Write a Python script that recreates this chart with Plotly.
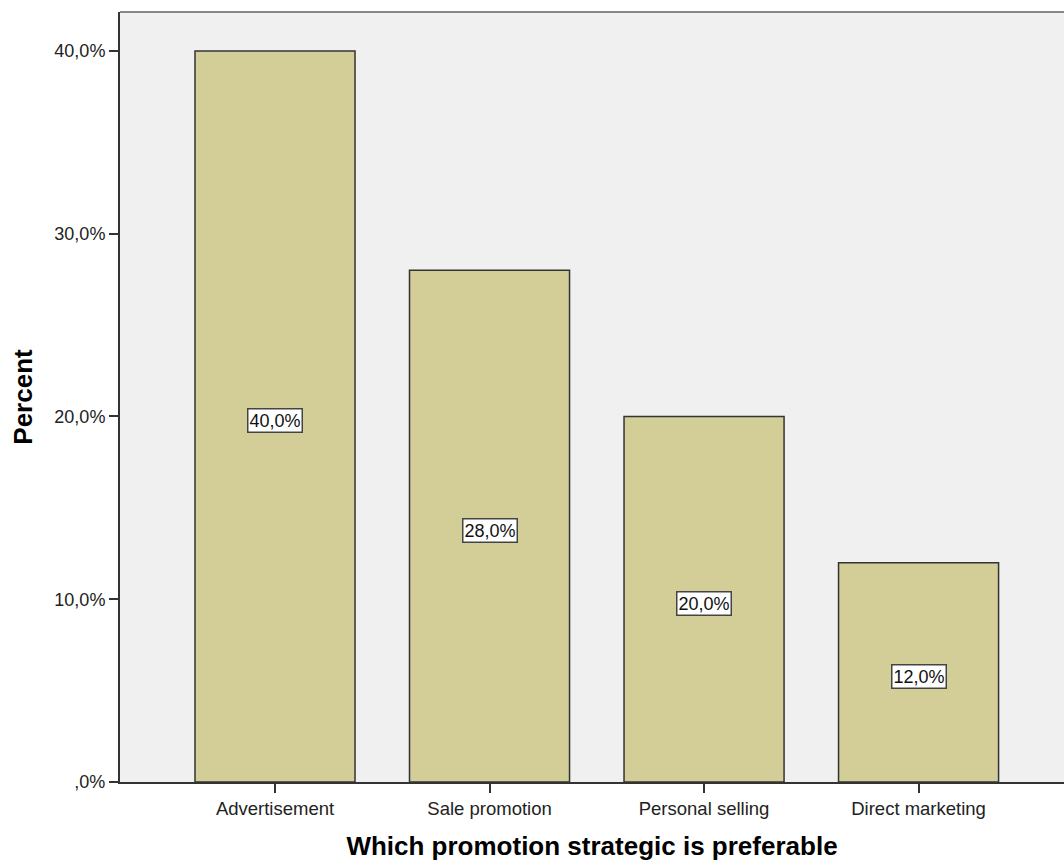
import plotly.graph_objects as go

# Preferred promotion strategies (percent of respondents)
categories = ["Advertisement", "Sale promotion", "Personal selling", "Direct marketing"]
percents = [40.0, 28.0, 20.0, 12.0]
y_tick_values = [0, 10, 20, 30, 40]
y_tick_labels = [",0%", "10,0%", "20,0%", "30,0%", "40,0%"]

FONT = "Liberation Sans, Arial, sans-serif"
x_pos = list(range(len(categories)))

fig = go.Figure()
fig.add_trace(go.Bar(
    x=x_pos,
    y=percents,
    width=0.746,
    marker=dict(color="#D3CE97", line=dict(color="#333333", width=1.5)),
    hoverinfo="skip",
))

# value labels centered inside each bar
for xi, v in zip(x_pos, percents):
    fig.add_annotation(
        x=xi, y=v / 2,
        yshift=-4,
        text=f"{v:.1f}%".replace(".", ","),
        showarrow=False,
        font=dict(family=FONT, size=18, color="#111111"),
        bgcolor="#FFFFFF",
        bordercolor="#444444",
        borderwidth=1.5,
        borderpad=1,
    )

# top frame line of the plot area
fig.add_shape(type="line", xref="paper", yref="paper", x0=0, x1=1, y0=1, y1=1,
              line=dict(color="#888888", width=2))

fig.update_layout(
    width=1064, height=861,
    margin=dict(l=120, r=0, t=12, b=79),
    paper_bgcolor="#FFFFFF",
    plot_bgcolor="#F0F0F0",
    showlegend=False,
    font=dict(family=FONT, size=18, color="#222222"),
    xaxis=dict(
        range=[-0.7226, 3.678],
        tickvals=x_pos, ticktext=categories,
        ticks="outside", ticklen=9, tickwidth=2, tickcolor="#333333",
        showline=True, linecolor="#333333", linewidth=2,
        showgrid=False, zeroline=False,
        tickfont=dict(family=FONT, size=18.5, color="#222222"),
        title=dict(text="<b>Which promotion strategic is preferable</b>",
                   font=dict(family=FONT, size=26, color="#000000"), standoff=21),
    ),
    yaxis=dict(
        range=[0, 42.13],
        tickvals=y_tick_values, ticktext=y_tick_labels,
        ticks="outside", ticklen=9, tickwidth=2, tickcolor="#333333",
        showline=True, linecolor="#333333", linewidth=2,
        showgrid=False, zeroline=False,
        tickfont=dict(family=FONT, size=18, color="#222222"),
        title=dict(text="<b>Percent</b>",
                   font=dict(family=FONT, size=26, color="#000000"), standoff=14),
    ),
)

fig.write_html("out.html")
